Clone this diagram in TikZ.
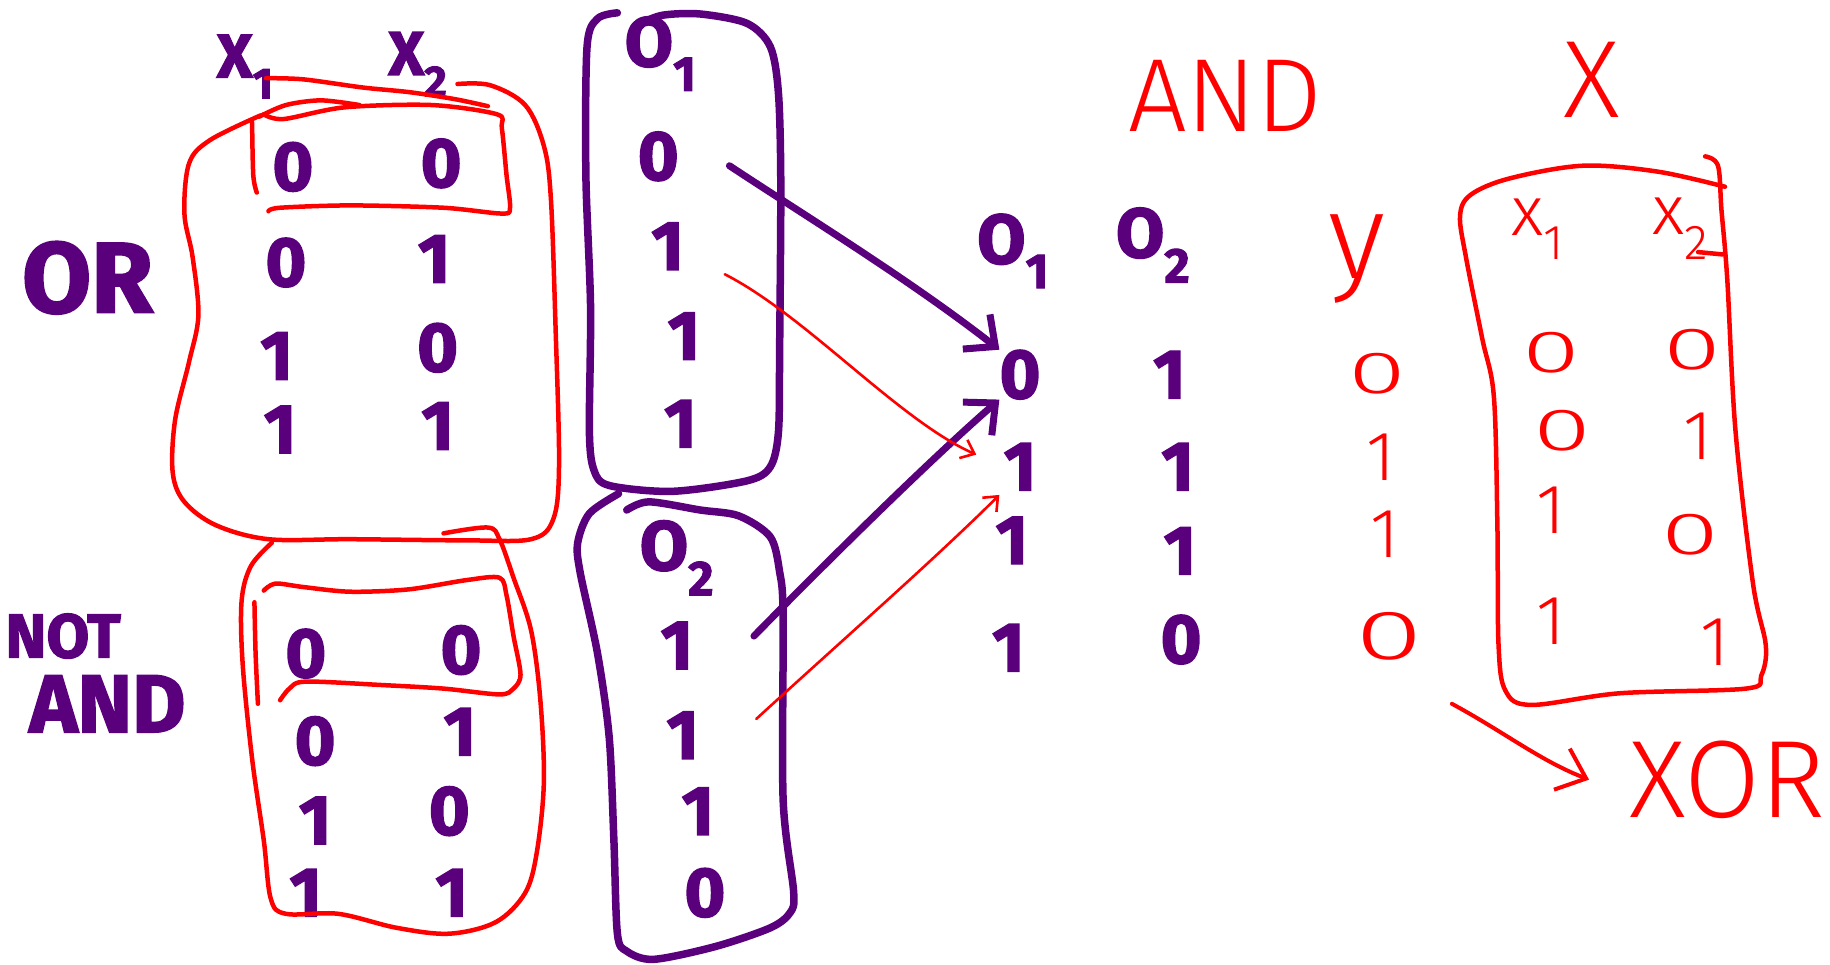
\documentclass[tikz,border=0pt]{standalone}
\usepackage{fontspec}
\setmainfont{Fira Sans}[BoldFeatures={FakeBold=2}]
\newfontfamily\lightfont{Fira Sans Light}
\usetikzlibrary{arrows.meta}
\definecolor{ink}{RGB}{90,0,125}
\definecolor{pen}{RGB}{255,0,0}
\newcommand{\fsz}[1]{\fontsize{#1}{#1}\selectfont}
% a wide, flat zero as written by hand
\newcommand{\wz}{\scalebox{1.5}[0.85]{0}}
\begin{document}
\begin{tikzpicture}[x=1.1671pt,y=-1.1671pt,
  pdig/.style={text=ink,inner sep=0pt,font=\fsz{70}\bfseries},
  plab/.style={text=ink,inner sep=0pt,font=\fsz{62}\bfseries},
  rdig/.style={text=pen,inner sep=0pt,font=\fsz{70}\lightfont},
  rlab/.style={text=pen,inner sep=0pt,font=\fsz{110}\lightfont},
  pline/.style={draw=ink,line width=7.5pt,line cap=round,line join=round},
  rline/.style={draw=pen,line width=4.5pt,line cap=round,line join=round},
  parrow/.style={draw=ink,line width=7pt,line cap=round,-{Straight Barb[length=24pt,width=44pt]}},
  rarrow/.style={draw=pen,line width=2.6pt,line cap=round,-{Straight Barb[length=12pt,width=20pt]}},
  xarrow/.style={draw=pen,line width=4pt,line cap=round,-{Straight Barb[length=26pt,width=44pt]}}
]
\useasboundingbox (0,0) rectangle (1568,826);

% ---------- OR table ----------
\node[plab] (x1) at (210,57) {X\textsubscript{1}};
\node[plab] (x2) at (358,55) {X\textsubscript{2}};
\node[pdig] (ora) at (251,143) {0};
\node[pdig] (orb) at (378,140) {0};
\node[pdig] (orc) at (245,225) {0};
\node[pdig] (ord) at (372,222) {1};
\node[pdig] (ore) at (237,305) {1};
\node[pdig] (orf) at (375,298) {0};
\node[pdig] (org) at (240,368) {1};
\node[pdig] (orh) at (375,365) {1};
\node[plab,font=\fsz{100}\bfseries] (orname) at (75,238) {OR};

% red outline of the OR block
\draw[rline] plot[smooth,tension=0.5] coordinates {(228,67) (260,68) (311,75) (351,79) (390,85) (418,91)};
\draw[rline] plot[smooth,tension=0.55] coordinates {(392,72) (420,73) (450,90) (466,125) (472,170) (476,280) (479,398) (474,445) (455,462) (400,463) (300,462) (230,462) (185,450) (158,430) (148,405) (150,360) (162,310) (170,270) (165,220) (158,183) (162,140) (180,120) (223,99)};
\draw[rline] plot[smooth,tension=0.5] coordinates {(222,100) (245,90) (275,86) (308,90)};
\draw[rline] plot[smooth,tension=0.5] coordinates {(226,98) (243,102) (295,92) (370,90) (426,98) (430,110) (434,150) (437,178) (430,183) (380,178) (300,176) (240,178) (230,181)};
\draw[rline] plot[smooth,tension=0.5] coordinates {(216,105) (217,150) (220,165)};

% ---------- NOT AND table ----------
\node[plab,font=\fsz{62}\bfseries] (notname) at (54,545) {NOT};
\node[plab,font=\fsz{82}\bfseries] (andname) at (92,603) {AND};
\node[pdig] (naa) at (262,560) {0};
\node[pdig] (nab) at (395,557) {0};
\node[pdig] (nac) at (270,635) {0};
\node[pdig] (nad) at (394,627) {1};
\node[pdig] (nae) at (270,703) {1};
\node[pdig] (naf) at (385,695) {0};
\node[pdig] (nag) at (262,765) {1};
\node[pdig] (nah) at (387,765) {1};

\draw[rline] plot[smooth,tension=0.55] coordinates {(380,457) (418,452) (428,462) (440,495) (455,540) (463,600) (466,670) (460,730) (450,765) (425,790) (385,800) (340,795) (290,783) (245,783) (232,770) (226,720) (216,650) (208,570) (207,515) (215,485) (233,465)};
\draw[rline] plot[smooth,tension=0.5] coordinates {(226,506) (236,500) (260,503) (300,507) (350,505) (400,497) (428,495) (434,510) (440,545) (446,578) (440,590) (428,595) (380,590) (328,587) (262,584) (248,590) (240,600)};
\draw[rline] plot[smooth,tension=0.5] coordinates {(218,516) (219,560) (221,603)};

% ---------- O1 / O2 columns ----------
\node[pdig] (o1h) at (566,46) {O\textsubscript{1}};
\node[pdig] (o1a) at (564,134) {0};
\node[pdig] (o1b) at (572,211) {1};
\node[pdig] (o1c) at (586,288) {1};
\node[pdig] (o1d) at (583,363) {1};
\node[pdig] (o2h) at (580,478) {O\textsubscript{2}};
\node[pdig] (o2a) at (580,553) {1};
\node[pdig] (o2b) at (585,630) {1};
\node[pdig] (o2c) at (598,695) {1};
\node[pdig] (o2d) at (604,765) {0};

\draw[pline] plot[smooth,tension=0.5] coordinates {(529,11) (512,16) (503,40) (502,150) (506,263) (505,370) (509,403) (522,416) (576,421) (640,412) (660,400) (667,370) (668,300) (669,158) (667,80) (660,40) (640,20) (600,12) (568,13) (550,20) (546,26)};
\draw[pline] plot[smooth,tension=0.5] coordinates {(537,437) (556,430) (600,437) (633,442) (660,460) (668,490) (671,527) (671,685) (680,764) (677,782) (660,795) (613,811) (560,822) (537,815) (529,800) (526,720) (522,632) (512,560) (497,490) (495,465) (505,440) (530,423)};

% ---------- combined O1 O2 table ----------
\node[pdig] (ch1) at (868,215) {O\textsubscript{1}};
\node[pdig] (ch2) at (988,210) {O\textsubscript{2}};
\node[pdig] (ca1) at (874,321) {0};
\node[pdig] (ca2) at (874,400) {1};
\node[pdig] (ca3) at (867,463) {1};
\node[pdig] (ca4) at (864,555) {1};
\node[pdig] (cb1) at (1002,321) {1};
\node[pdig] (cb2) at (1009,400) {1};
\node[pdig] (cb3) at (1011,472) {1};
\node[pdig] (cb4) at (1012,548) {0};

% connectors
\coordinate (p1s) at (625,142);
\coordinate (p2s) at (646,545);
\coordinate (r1s) at (621,235);
\coordinate (r2s) at (648,616);
\draw[parrow] (p1s) .. controls (690,185) and (780,240) .. (ca1.north west);
\draw[parrow] (p2s) .. controls (690,500) and (790,400) .. (ca1.south west);
\draw[rarrow,shorten >=30pt] (r1s) .. controls (690,270) and (770,360) .. (ca2.west);
\draw[rarrow,shorten >=6pt] (r2s) .. controls (720,550) and (800,480) .. (ca2.south west);

% ---------- AND result ----------
\node[rlab,font=\fsz{104}\lightfont] (andr) at (1050,82) {AND};
\node[rlab,font=\fsz{122}\lightfont] (yr) at (1163,222) {y};
\node[rdig] (ya) at (1180,320) {\wz};
\node[rdig] (yb) at (1183,392) {1};
\node[rdig] (yc) at (1187,458) {1};
\node[rdig,font=\fsz{82}\lightfont] (yd) at (1190,545) {\wz};

% ---------- XOR table ----------
\node[rlab] (xr) at (1364,68) {X};
\node[rdig] (xx1) at (1318,196) {x\textsubscript{1}};
\node[rdig] (xx2) at (1440,196) {x\textsubscript{2}};
\node[rdig] (xa) at (1329,302) {\wz};
\node[rdig] (xb) at (1450,300) {\wz};
\node[rdig] (xc) at (1339,369) {\wz};
\node[rdig] (xd) at (1455,374) {1};
\node[rdig] (xe) at (1329,437) {1};
\node[rdig] (xf) at (1448,458) {\wz};
\node[rdig] (xg) at (1329,532) {1};
\node[rdig] (xh) at (1469,550) {1};
\draw[rline] plot[smooth,tension=0.55] coordinates {(1461,134) (1472,142) (1475,180) (1480,240) (1487,369) (1502,500) (1513,553) (1509,579) (1496,590) (1388,594) (1312,604) (1290,592) (1284,553) (1283,450) (1280,340) (1270,290) (1256,220) (1251,185) (1260,167) (1293,153) (1356,142) (1420,147) (1478,160)};
\draw[rline] (1455,216) -- (1476,218);

\node[rlab] (xorr) at (1480,668) {XOR};
\coordinate (xs) at (1244,603);
\draw[xarrow] (xs) .. controls (1290,628) and (1320,652) .. ([xshift=-40pt]xorr.west);
\end{tikzpicture}
\end{document}
